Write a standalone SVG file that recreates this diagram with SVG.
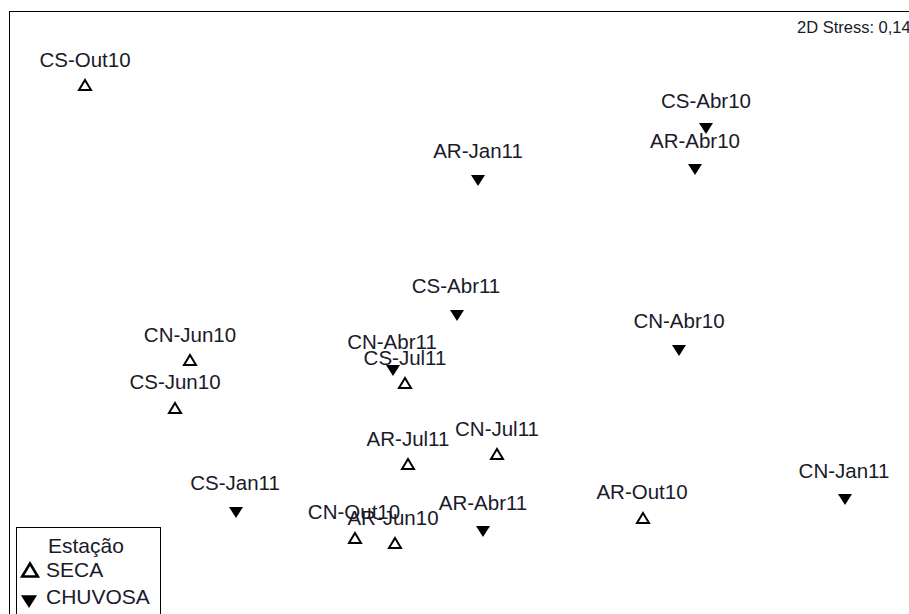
<svg xmlns="http://www.w3.org/2000/svg" width="909" height="614" viewBox="0 0 909 614">
<defs>
<style>
.lbl{font-family:"Liberation Sans",Arial,sans-serif;font-size:20.5px;fill:#1a1a2a;text-anchor:middle}
.leg{font-family:"Liberation Sans",Arial,sans-serif;font-size:21px;fill:#1a1a2a}
.open{fill:none;stroke:#000;stroke-width:2;stroke-linejoin:miter}
.fill{fill:#000}
</style>
<path id="up" class="open" d="M0,-5 L6,5 L-6,5 Z"/>
<path id="dn" class="fill" d="M-7,-5 L7,-5 L0,6 Z"/>
</defs>
<rect width="909" height="614" fill="#fff"/>
<rect x="9.5" y="11.5" width="910" height="610" fill="none" stroke="#000" stroke-width="1"/>
<text x="797" y="33" font-family="Liberation Sans,Arial,sans-serif" font-size="16.5" fill="#1a1a2a">2D Stress: 0,14</text>
<g id="connectors"></g>
<g id="CS-Out10"><use href="#up" x="85" y="85"/><text class="lbl" x="85" y="67">CS-Out10</text></g>
<g id="CS-Abr10"><text class="lbl" x="706" y="108">CS-Abr10</text><use href="#dn" x="706" y="128"/></g>
<g id="AR-Abr10"><text class="lbl" x="695" y="148">AR-Abr10</text><use href="#dn" x="695" y="169"/></g>
<g id="AR-Jan11"><use href="#dn" x="478" y="180"/><text class="lbl" x="478" y="158">AR-Jan11</text></g>
<g id="CS-Abr11"><use href="#dn" x="457" y="315"/><text class="lbl" x="456" y="293">CS-Abr11</text></g>
<g id="CN-Abr10"><use href="#dn" x="679" y="350"/><text class="lbl" x="679" y="328">CN-Abr10</text></g>
<g id="CN-Jun10"><use href="#up" x="190" y="360"/><text class="lbl" x="190" y="342">CN-Jun10</text></g>
<g id="CN-Abr11"><text class="lbl" x="392" y="349">CN-Abr11</text><use href="#dn" x="393" y="370"/></g>
<g id="CS-Jul11"><text class="lbl" x="405" y="365">CS-Jul11</text><use href="#up" x="405" y="383"/></g>
<g id="CS-Jun10"><use href="#up" x="175" y="408"/><text class="lbl" x="175" y="389">CS-Jun10</text></g>
<g id="AR-Jul11"><use href="#up" x="408" y="464"/><text class="lbl" x="408" y="446">AR-Jul11</text></g>
<g id="CN-Jul11"><use href="#up" x="497" y="454"/><text class="lbl" x="497" y="436">CN-Jul11</text></g>
<g id="CS-Jan11"><use href="#dn" x="236" y="512"/><text class="lbl" x="235" y="490">CS-Jan11</text></g>
<g id="CN-Jan11"><use href="#dn" x="845" y="499"/><text class="lbl" x="844" y="478">CN-Jan11</text></g>
<g id="AR-Out10"><use href="#up" x="643" y="518"/><text class="lbl" x="642" y="499">AR-Out10</text></g>
<g id="AR-Abr11"><use href="#dn" x="483" y="531"/><text class="lbl" x="483" y="510">AR-Abr11</text></g>
<g id="CN-Out10"><use href="#up" x="355" y="538"/><text class="lbl" x="354" y="519">CN-Out10</text></g>
<g id="AR-Jun10"><use href="#up" x="395" y="543"/><text class="lbl" x="393" y="525">AR-Jun10</text></g>
<g id="legend">
<rect x="16.5" y="527.5" width="144" height="100" fill="#fff" stroke="#000" stroke-width="1"/>
<text class="leg" x="48" y="553" font-size="21.5">Estação</text>
<use href="#up" transform="translate(30,570) scale(1.3)"/>
<text class="leg" x="46" y="577">SECA</text>
<use href="#dn" transform="translate(29,601) scale(1.15)"/>
<text class="leg" x="46" y="604">CHUVOSA</text>
</g>
</svg>
